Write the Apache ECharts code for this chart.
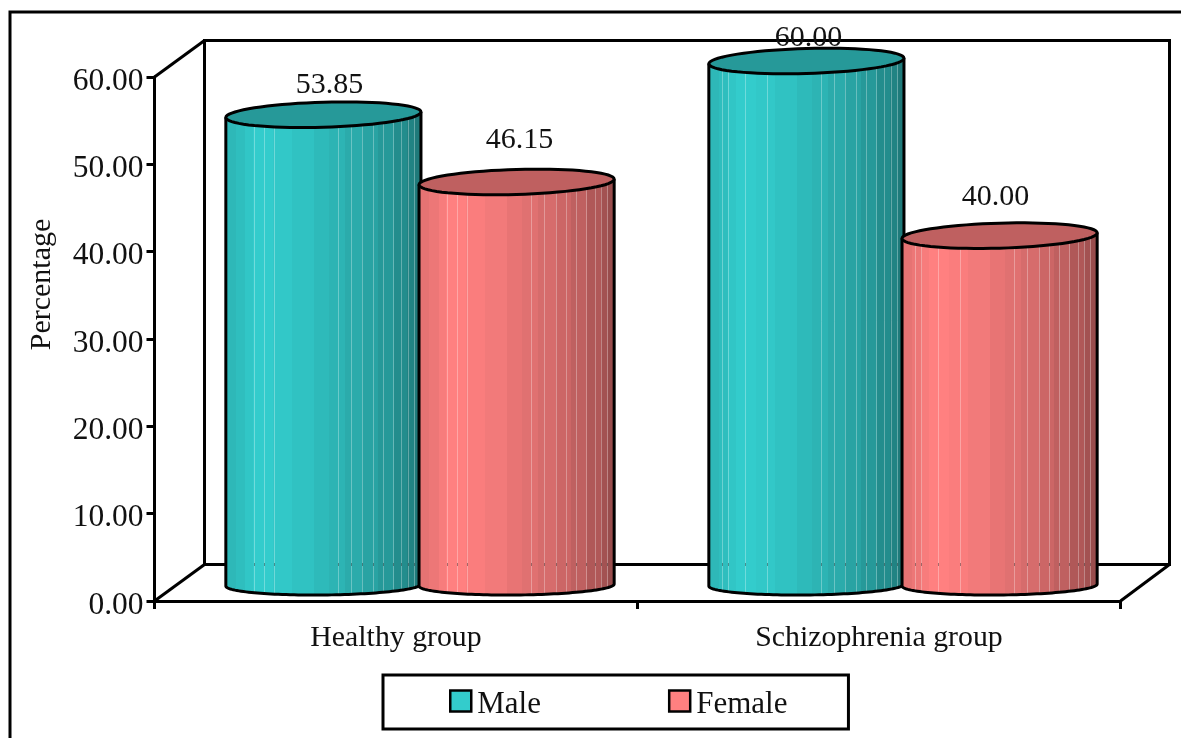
<!DOCTYPE html>
<html>
<head>
<meta charset="utf-8">
<style>
  html, body { margin: 0; padding: 0; background: #fff; }
  #chart { width: 1181px; height: 738px; }
</style>
<script src="https://cdn.jsdelivr.net/npm/echarts@6/dist/echarts.min.js"></script>
</head>
<body>
<div id="chart"></div>
<script>
// Gender split by study group, drawn as 3D-style cylinders.
const groups = ['Healthy group', 'Schizophrenia group'];
const maleValues = [53.85, 60.00];
const femaleValues = [46.15, 40.00];
const maleColor = '#33cccc';
const femaleColor = '#ff8080';

const FONT = '"Liberation Serif", "Times New Roman", serif';
const INK = '#000';
const LINE = 3;

// Oblique projection: how far the floor and the cylinder bases sit behind the axes.
const WALL_DX = 50, WALL_DY = -36.5;
const BASE_DX = 24, BASE_DY = -16;

// Facet shading across a cylinder: fractional start of each band and its brightness.
const bandStarts = [0, 0.05, 0.1, 0.14, 0.24, 0.34, 0.45, 0.53, 0.61, 0.7, 0.78, 0.86, 0.93, 0.97];
const bandShades = [0.9, 0.93, 0.97, 1.0, 0.98, 0.95, 0.91, 0.88, 0.84, 0.8, 0.75, 0.69, 0.64, 0.6];
// Lighter seams between facets, as fractions of the cylinder's width, for each group.
const seamsRight = [0.575, 0.64, 0.70, 0.755, 0.805, 0.855, 0.90, 0.935, 0.965];
const seamsLeftByGroup = [[0.145, 0.195, 0.245], [0.067, 0.097, 0.185, 0.297]];
// Shift of each value label from the cylinder centre, per series and group.
const maleLabelShift = [[6, -30], [2, -23]];
const femaleLabelShift = [[3, -42], [-4, -39]];

function shade(hex, k) {
  const n = parseInt(hex.slice(1), 16);
  const c = [n >> 16 & 255, n >> 8 & 255, n & 255].map(v => Math.round(v * k));
  return 'rgb(' + c.join(',') + ')';
}

function facetFill(color) {
  const stops = [];
  bandStarts.forEach((s, i) => {
    const end = i + 1 < bandStarts.length ? bandStarts[i + 1] : 1;
    stops.push({ offset: s, color: shade(color, bandShades[i]) });
    stops.push({ offset: end, color: shade(color, bandShades[i]) });
  });
  return new echarts.graphic.LinearGradient(0, 0, 1, 0, stops);
}

// Point on a slightly sheared ellipse; the shear leans the rim up to the right.
function rim(cx, cy, a, b, lean, t) {
  return [cx + a * Math.cos(t), cy + b * Math.sin(t) - lean * Math.cos(t)];
}

function arc(cx, cy, a, b, lean, from, to) {
  const pts = [];
  for (let i = 0; i <= 72; i++) {
    pts.push(rim(cx, cy, a, b, lean, from + (to - from) * i / 72));
  }
  return pts;
}

function cylinder(direction, color, labelShift) {
  return function (params, api) {
    const band = api.size([1, 0])[0];
    const a = band * 0.202;
    const base = api.coord([api.value(0), 0]);
    const top = api.coord([api.value(0), api.value(1)]);
    const cx = base[0] + BASE_DX + direction * band * 0.2;
    const yBase = base[1] + BASE_DY;
    const yTop = top[1] + BASE_DY;
    const floorLineY = base[1] + WALL_DY;

    const topB = 12.5, topLean = 2.8, baseB = 10, baseLean = 1;
    const frontBottom = arc(cx, yBase, a, baseB, baseLean, 0, Math.PI);
    const topFront = arc(cx, yTop, a, topB, topLean, Math.PI, 0);
    const shift = labelShift[params.dataIndex];

    const children = [{
      type: 'text',
      z2: 1,
      style: {
        text: api.value(1).toFixed(2),
        x: cx + shift[0], y: yTop + shift[1],
        fill: '#111', font: '30px ' + FONT,
        align: 'center', verticalAlign: 'middle'
      }
    }, {
      type: 'polygon',
      z2: 2,
      shape: { points: frontBottom.concat(topFront) },
      style: { fill: facetFill(color), stroke: null }
    }];

    seamsLeftByGroup[params.dataIndex].concat(seamsRight).forEach(f => {
      const x = cx - a + 2 * a * f;
      const t = Math.acos((x - cx) / a);
      const yLow = rim(cx, yBase, a, baseB, baseLean, t)[1];
      const yHigh = rim(cx, yTop, a, topB, topLean, -t)[1];
      const seamX = Math.round(x) + 0.5;
      children.push({
        type: 'line', z2: 3,
        shape: { x1: seamX, y1: yHigh, x2: seamX, y2: yLow },
        style: { stroke: 'rgba(255,255,255,0.3)', lineWidth: 1 }
      }, {
        type: 'line', z2: 3,
        shape: { x1: seamX, y1: floorLineY - 1.5, x2: seamX, y2: floorLineY + 1.5 },
        style: { stroke: 'rgba(0,0,0,0.35)', lineWidth: 1 }
      });
    });

    children.push({
      type: 'polyline', z2: 4,
      shape: {
        points: [[cx - a, yTop + topLean]].concat(frontBottom.slice().reverse(), [[cx + a, yTop - topLean]])
      },
      style: { stroke: INK, lineWidth: LINE, fill: null, lineJoin: 'round' }
    }, {
      type: 'polygon', z2: 5,
      shape: { points: arc(cx, yTop, a, topB, topLean, 0, Math.PI * 2) },
      style: { fill: shade(color, 0.75), stroke: INK, lineWidth: LINE }
    });

    return { type: 'group', children };
  };
}

// Back wall and floor edges, hung off the plot rectangle.
function renderWalls(params) {
  const g = params.coordSys;
  const l = g.x, r = g.x + g.width, t = g.y, b = g.y + g.height;
  const style = { stroke: INK, lineWidth: LINE, fill: null };
  return {
    type: 'group',
    children: [
      { type: 'rect', shape: { x: l + WALL_DX, y: t + WALL_DY, width: g.width - 1, height: g.height }, style },
      { type: 'line', shape: { x1: l, y1: t, x2: l + WALL_DX, y2: t + WALL_DY }, style },
      { type: 'line', shape: { x1: l, y1: b, x2: l + WALL_DX, y2: b + WALL_DY }, style },
      { type: 'line', shape: { x1: r, y1: b, x2: r + WALL_DX - 1, y2: b + WALL_DY }, style }
    ]
  };
}

const chart = echarts.init(document.getElementById('chart'), null, { renderer: 'canvas' });
chart.setOption({
  animation: false,
  backgroundColor: '#fff',
  graphic: [{
    type: 'polyline',
    silent: true,
    z: 0,
    shape: { points: [[10, 738], [10, 12], [1181, 12]] },
    style: { stroke: INK, lineWidth: 3, fill: null }
  }],
  grid: { left: 154.5, top: 77, width: 966, height: 524, containLabel: false },
  xAxis: {
    type: 'category',
    data: groups,
    axisLine: { lineStyle: { color: INK, width: LINE } },
    axisTick: { show: true, length: 8, alignWithLabel: false, lineStyle: { color: INK, width: LINE } },
    axisLabel: { color: '#111', fontFamily: FONT, fontSize: 29.8, margin: 22 },
    splitLine: { show: false }
  },
  yAxis: {
    type: 'value',
    min: 0,
    max: 60,
    interval: 10,
    name: 'Percentage',
    nameLocation: 'middle',
    nameGap: 97,
    nameRotate: 90,
    nameTextStyle: { color: '#111', fontFamily: FONT, fontSize: 30, padding: [0, 0, 0, 109] },
    axisLine: { show: true, lineStyle: { color: INK, width: LINE } },
    axisTick: { show: true, length: 8, lineStyle: { color: INK, width: LINE } },
    axisLabel: {
      margin: 11,
      formatter: v => '{tick|' + v.toFixed(2) + '}',
      rich: { tick: { color: '#111', fontFamily: FONT, fontSize: 31.5, padding: [9, 0, 0, 0] } }
    },
    splitLine: { show: false }
  },
  legend: {
    left: 383,
    top: 675,
    orient: 'horizontal',
    padding: [14, 61, 9, 66],
    itemWidth: 21,
    itemHeight: 21,
    itemGap: 127,
    icon: 'rect',
    borderColor: INK,
    borderWidth: LINE,
    backgroundColor: '#fff',
    textStyle: {
      rich: { name: { color: '#111', fontFamily: FONT, fontSize: 31, padding: [7, 0, 0, 1] } }
    },
    formatter: name => '{name|' + name + '}',
    itemStyle: { borderColor: INK, borderWidth: 2.5 },
    data: ['Male', 'Female']
  },
  series: [{
    type: 'custom',
    name: 'walls',
    coordinateSystem: 'cartesian2d',
    silent: true,
    z: 1,
    clip: false,
    renderItem: renderWalls,
    data: [[0, 0]]
  }, {
    type: 'custom',
    name: 'Male',
    coordinateSystem: 'cartesian2d',
    z: 2,
    clip: false,
    itemStyle: { color: maleColor },
    renderItem: cylinder(-1, maleColor, maleLabelShift),
    encode: { x: 0, y: 1 },
    data: groups.map((g, i) => [i, maleValues[i]])
  }, {
    type: 'custom',
    name: 'Female',
    coordinateSystem: 'cartesian2d',
    z: 3,
    clip: false,
    itemStyle: { color: femaleColor },
    renderItem: cylinder(1, femaleColor, femaleLabelShift),
    encode: { x: 0, y: 1 },
    data: groups.map((g, i) => [i, femaleValues[i]])
  }]
});
</script>
</body>
</html>
